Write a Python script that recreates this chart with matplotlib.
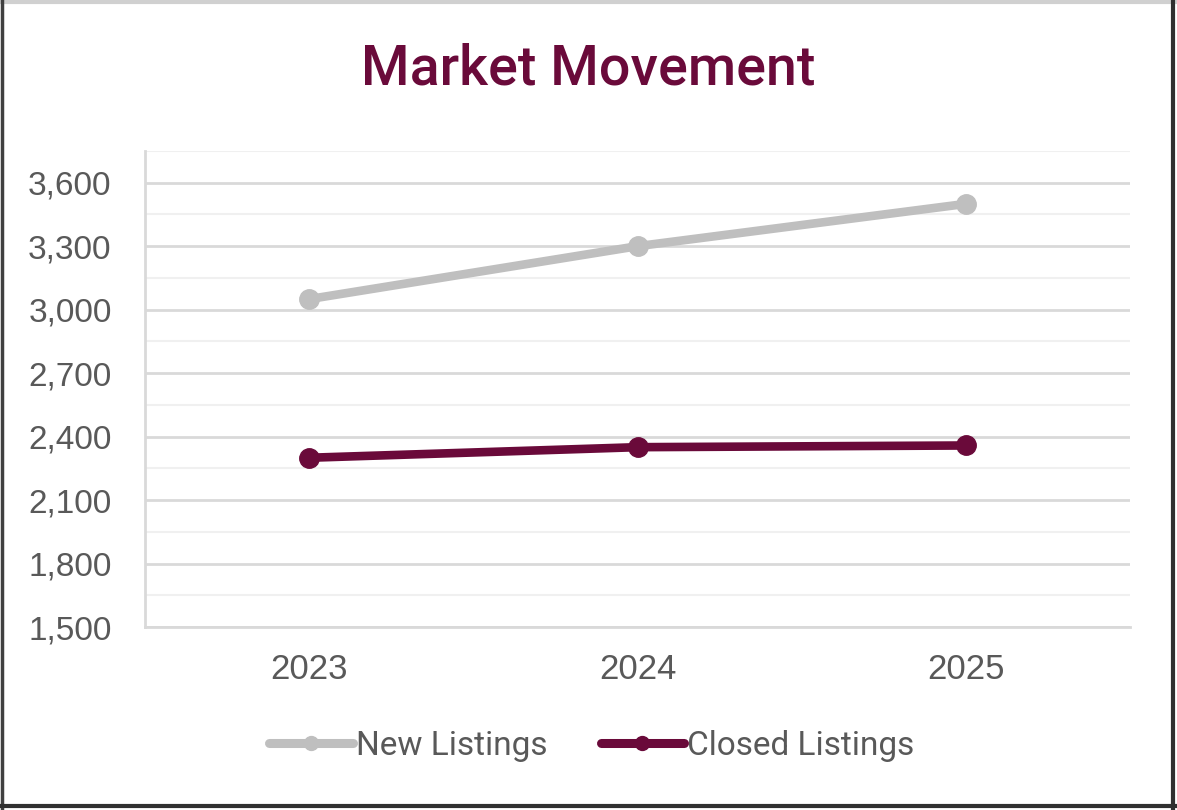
import matplotlib
matplotlib.use("Agg")
import matplotlib.pyplot as plt
from matplotlib.lines import Line2D
from matplotlib.ticker import FuncFormatter, MultipleLocator

years = ["2023", "2024", "2025"]
new_listings = [3050, 3300, 3500]
closed_listings = [2300, 2350, 2358]
series_names = ["New Listings", "Closed Listings"]

GRAY = "#BFBFBF"
MAROON = "#6A0A3A"
TEXT = "#595959"

fig = plt.figure(figsize=(11.77, 8.10), dpi=100)
ax = fig.add_axes([145/1177, 1-627/810, 985/1177, 476/810])

x = [i + 0.5 for i in range(len(years))]
ax.plot(x, new_listings, color=GRAY, lw=6.2, marker="o", ms=14, solid_capstyle="round", label=series_names[0], zorder=3)
ax.plot(x, closed_listings, color=MAROON, lw=6.2, marker="o", ms=14, solid_capstyle="round", label=series_names[1], zorder=3)

ax.set_xlim(0, 3)
ax.set_ylim(1500, 3750)
ax.yaxis.set_major_locator(MultipleLocator(300))
ax.yaxis.set_minor_locator(MultipleLocator(150))
ax.yaxis.set_major_formatter(FuncFormatter(lambda v, p: f"{int(v):,}"))
ax.set_xticks(x)
ax.set_xticklabels(years)

ax.grid(axis="y", which="major", color="#D9D9D9", lw=2, zorder=0)
ax.grid(axis="y", which="minor", color="#F0F0F0", lw=1.5, zorder=0)
ax.set_axisbelow(True)
for s in ["top", "right"]:
    ax.spines[s].set_visible(False)
for s in ["left", "bottom"]:
    ax.spines[s].set_color("#D9D9D9")
    ax.spines[s].set_linewidth(2)

ax.tick_params(axis="both", which="both", length=0, colors=TEXT)
ax.tick_params(axis="y", labelsize=24, pad=24)
ax.tick_params(axis="x", labelsize=25, pad=19)
for lbl in ax.get_xticklabels() + ax.get_yticklabels():
    lbl.set_fontfamily("Liberation Sans")

fig.text(0.5, 1-69/810, "Market Movement", ha="center", va="center",
         fontsize=40, color=MAROON, fontfamily="Roboto", fontweight="medium")

handles = [Line2D([0], [0], color=GRAY, lw=6.5, marker="o", ms=10, solid_capstyle="round"),
           Line2D([0], [0], color=MAROON, lw=6.5, marker="o", ms=10, solid_capstyle="round")]
leg = fig.legend(handles, series_names, loc="center", bbox_to_anchor=(592/1177, 1-746/810),
                 ncol=2, frameon=False, handlelength=2.5, handletextpad=0.1,
                 columnspacing=1.6, prop={"family": "Roboto", "size": 24})
for t in leg.get_texts():
    t.set_color(TEXT)

# frame
fig.add_artist(Line2D([0.5/1177, 1-0.5/1177], [1-1.5/810, 1-1.5/810], transform=fig.transFigure, color="#D0D0D0", lw=3))
fig.add_artist(Line2D([2/1177, 2/1177], [0, 1], transform=fig.transFigure, color="#404040", lw=2.5))
fig.add_artist(Line2D([1-4/1177, 1-4/1177], [0, 1], transform=fig.transFigure, color="#303030", lw=3))
fig.add_artist(Line2D([0, 1], [4/810, 4/810], transform=fig.transFigure, color="#303030", lw=3))

fig.savefig("out.png", dpi=100, facecolor="white")
